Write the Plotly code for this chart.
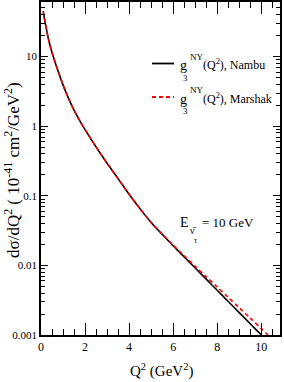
import plotly.graph_objects as go

# ---- data ----
q2 = [0.1, 0.2, 0.3, 0.4, 0.5, 0.6, 0.8, 1.0, 1.25, 1.5, 1.75, 2.0, 2.5, 3.0, 3.5,
      4.0, 4.5, 5.0, 5.5, 6.0, 6.5, 7.0, 7.5, 8.0, 8.5, 9.0, 9.5, 10.0, 10.5]
nambu = [44.7, 29.5, 20.4, 14.96, 11.48, 9.12, 5.89, 3.93, 2.51, 1.70, 1.216, 0.895,
         0.504, 0.293, 0.1766, 0.1052, 0.0649, 0.0414, 0.0280, 0.01914, 0.01324,
         0.00916, 0.00634, 0.00439, 0.00303, 0.0021, 0.00145, 0.001005, 0.000695]
marshak = [44.7, 29.5, 20.4, 14.96, 11.48, 9.12, 5.89, 3.93, 2.51, 1.70, 1.216, 0.895,
           0.504, 0.293, 0.1766, 0.1052, 0.0649, 0.0414, 0.02825, 0.01954, 0.01374,
           0.00971, 0.00689, 0.00489, 0.00347, 0.00246, 0.001746, 0.001236, 0.000875]

x_ticks = [0, 2, 4, 6, 8, 10]
y_ticks = [0.001, 0.01, 0.1, 1, 10]
y_tick_labels = ["0.001", "0.01", "0.1", "1", "10"]

FONT = "Liberation Serif, Times New Roman, serif"
W, H = 284, 382
L, R, T, B = 41, 280, 2, 335


def px(x):
    return (x - L) / (R - L)


def py(y):
    return (B - y) / (B - T)


fig = go.Figure()
fig.add_trace(go.Scatter(x=q2, y=nambu, mode="lines",
                         line=dict(color="black", width=1.6, shape="spline", smoothing=0.8),
                         showlegend=False))
fig.add_trace(go.Scatter(x=q2, y=marshak, mode="lines",
                         line=dict(color="#ff0000", width=1.6, dash="4px,3px",
                                   shape="spline", smoothing=0.8),
                         showlegend=False))

minor_y = [m * 10 ** e for e in range(-3, 2) for m in range(2, 10)]

fig.update_layout(
    width=W, height=H,
    margin=dict(l=L, r=W - R, t=T, b=H - B, autoexpand=False),
    paper_bgcolor="white", plot_bgcolor="white",
    font=dict(family=FONT, color="black"),
    xaxis=dict(range=[0, 10.85], tickvals=x_ticks, ticks="inside", ticklen=12,
               tickwidth=1.3, tickcolor="black", showline=True, linecolor="black",
               linewidth=1.5, mirror="allticks", showgrid=False, zeroline=False,
               tickfont=dict(size=12, family=FONT),
               minor=dict(dtick=0.5, ticks="inside", ticklen=6, tickwidth=1.2,
                          tickcolor="black", showgrid=False)),
    yaxis=dict(type="log", range=[-3, 1.785], tickvals=y_ticks, ticktext=y_tick_labels,
               ticks="inside", ticklen=7, tickwidth=1.3, tickcolor="black",
               showline=True, linecolor="black", linewidth=1.5, mirror="allticks",
               showgrid=False, zeroline=False, tickfont=dict(size=11, family=FONT),
               minor=dict(tickvals=minor_y, ticks="inside", ticklen=4, tickwidth=1,
                          tickcolor="black", showgrid=False)),
)

ann = []


def text(x, y, s, size, anchor="left"):
    ann.append(dict(x=px(x), y=py(y), xref="paper", yref="paper", text=s,
                    showarrow=False, xanchor=anchor, yanchor="middle",
                    font=dict(size=size, family=FONT, color="black")))


# axis titles
ann.append(dict(x=px(12), y=py(170), xref="paper", yref="paper",
                text="dσ/dQ<sup>2</sup> ( 10<sup>-41</sup> cm<sup>2</sup>/GeV<sup>2</sup>)",
                textangle=-90, showarrow=False, xanchor="center", yanchor="middle",
                font=dict(size=17, family=FONT, color="black")))
text(161, 370, "Q<sup>2</sup> (GeV<sup>2</sup>)", 15, "center")

# legend
for yc, name in [(64.5, "Nambu"), (98.5, "Marshak")]:
    text(178, yc + 1, "g", 14)
    text(181, yc + 13, "3", 9)
    text(188, yc - 8, "NY", 9)
    text(201, yc, "(Q<sup>2</sup>), " + name, 12)

fig.add_shape(type="line", xref="paper", yref="paper", x0=px(152), x1=px(174),
              y0=py(63.5), y1=py(63.5), line=dict(color="black", width=1.8))
fig.add_shape(type="line", xref="paper", yref="paper", x0=px(152), x1=px(174),
              y0=py(97), y1=py(97), line=dict(color="#ff0000", width=1.8, dash="4px,3px"))

# energy label
text(178, 222.5, "E", 14)
text(188, 230, "ν\u0304", 10)
text(192, 241, "τ", 8)
text(200, 222.5, "= 10 GeV", 13)

fig.update_layout(annotations=ann)
fig.write_html("out.html", config={"displayModeBar": False},
               post_script="document.body.style.margin='0px';"
                           "document.body.style.overflow='hidden';")
